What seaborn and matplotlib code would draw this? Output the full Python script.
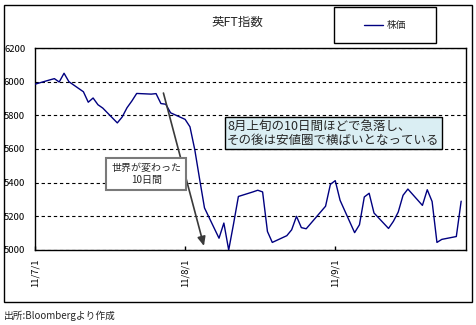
import matplotlib
matplotlib.use("Agg")
import matplotlib.pyplot as plt
import matplotlib.dates as mdates
from matplotlib.patches import Rectangle
from matplotlib.ticker import FuncFormatter
import pandas as pd
import seaborn as sns

# FTSE 100 daily closes, Jul-Sep 2011
dates = [
    "2011-07-01", "2011-07-04", "2011-07-05", "2011-07-06", "2011-07-07", "2011-07-08",
    "2011-07-11", "2011-07-12", "2011-07-13", "2011-07-14", "2011-07-15",
    "2011-07-18", "2011-07-19", "2011-07-20", "2011-07-21", "2011-07-22",
    "2011-07-25", "2011-07-26", "2011-07-27", "2011-07-28", "2011-07-29",
    "2011-08-01", "2011-08-02", "2011-08-03", "2011-08-04", "2011-08-05",
    "2011-08-08", "2011-08-09", "2011-08-10", "2011-08-11", "2011-08-12",
    "2011-08-15", "2011-08-16", "2011-08-17", "2011-08-18", "2011-08-19",
    "2011-08-22", "2011-08-23", "2011-08-24", "2011-08-25", "2011-08-26",
    "2011-08-30", "2011-08-31",
    "2011-09-01", "2011-09-02",
    "2011-09-05", "2011-09-06", "2011-09-07", "2011-09-08", "2011-09-09",
    "2011-09-12", "2011-09-13", "2011-09-14", "2011-09-15", "2011-09-16",
    "2011-09-19", "2011-09-20", "2011-09-21", "2011-09-22", "2011-09-23",
    "2011-09-26", "2011-09-27",
]
prices = [
    5985, 6010, 6018, 5998, 6050, 6000,
    5940, 5878, 5903, 5863, 5843,
    5755, 5790, 5845, 5885, 5930,
    5926, 5929, 5870, 5866, 5815,
    5776, 5732, 5595, 5420, 5250,
    5070, 5160, 5000, 5155, 5318,
    5345, 5355, 5345, 5110, 5045,
    5085, 5120, 5200, 5133, 5126,
    5260, 5390,
    5412, 5295,
    5103, 5150, 5315, 5337, 5220,
    5128, 5170, 5225, 5325, 5362,
    5265, 5358, 5288, 5045, 5063,
    5080, 5290,
]
yticks = [5000, 5200, 5400, 5600, 5800, 6000, 6200]
xtick_dates = ["2011-07-01", "2011-08-01", "2011-09-01"]
x_end = "2011-09-28"

title = "英FT指数"
series_name = "株価"
note_left = "世界が変わった\n10日間"
note_right = "8月上旬の10日間ほどで急落し、\nその後は安値圏で横ばいとなっている"
source = "出所:Bloombergより作成"

df = pd.DataFrame({"date": pd.to_datetime(dates), "price": prices})

sns.set_theme(style="white")
plt.rcParams["font.family"] = ["Noto Sans CJK JP", "DejaVu Sans"]

fig = plt.figure(figsize=(4.76, 3.25), dpi=100)
fig.patch.set_facecolor("white")

# outer chart frame
fig.add_artist(Rectangle((0.0084, 0.0708), 0.9842, 0.9138, transform=fig.transFigure,
                         fill=False, edgecolor="black", lw=1.0))

ax = fig.add_axes([0.0735, 0.2308, 0.9055, 0.6215])
ax.set_facecolor("white")
sns.lineplot(data=df, x="date", y="price", ax=ax, color="#000080", lw=1.0,
             legend=False, zorder=3)

ax.set_ylim(yticks[0], yticks[-1])
ax.set_xlim(pd.Timestamp(dates[0]), pd.Timestamp(x_end))
ax.set_yticks(yticks)
ax.set_xticks(pd.to_datetime(xtick_dates))
ax.xaxis.set_major_formatter(FuncFormatter(
    lambda v, p: (lambda d: f"{d.year % 100}/{d.month}/{d.day}")(mdates.num2date(v))))
ax.set_xlabel("")
ax.set_ylabel("")

ax.yaxis.grid(True, linestyle=(0, (3, 2.5)), color="black", lw=0.8)
ax.xaxis.grid(False)
for s in ax.spines.values():
    s.set_visible(True)
    s.set_color("black")
    s.set_linewidth(1.0)

ax.tick_params(axis="y", length=0, pad=7, labelsize=6.8, colors="black")
ax.tick_params(axis="x", direction="in", length=3, width=1, pad=6,
               labelsize=6.8, labelrotation=90, colors="black", bottom=True)

fig.text(0.498, 0.930, title, ha="center", va="center", fontsize=9)

# legend box
fig.add_artist(Rectangle((0.7017, 0.8677), 0.2143, 0.1108, transform=fig.transFigure,
                         fill=False, edgecolor="black", lw=1.0))
ax.legend(handles=ax.lines[:1], labels=[series_name], loc="center",
          bbox_to_anchor=(0.8088, 0.923), bbox_transform=fig.transFigure,
          frameon=False, fontsize=7, handlelength=1.9, handletextpad=0.4)

# arrow toward the August trough
ax.annotate("", xy=(0.392, 0.02), xytext=(0.298, 0.777),
            xycoords="axes fraction", textcoords="axes fraction",
            arrowprops=dict(arrowstyle="-|>,head_length=0.45,head_width=0.2",
                            color="#3a3a3a", lw=1.2, shrinkA=0, shrinkB=0),
            zorder=4)

ax.text(0.2587, 0.376, note_left, transform=ax.transAxes, ha="center", va="center",
        fontsize=7.2, linespacing=1.2, zorder=6,
        bbox=dict(boxstyle="square,pad=0.5", facecolor="white",
                  edgecolor="#7a7a7a", lw=1.5))

ax.text(0.4455, 0.579, note_right, transform=ax.transAxes, ha="left", va="center",
        fontsize=9, linespacing=1.1, zorder=6,
        bbox=dict(boxstyle="square,pad=0.2", facecolor="#DAEEF3",
                  edgecolor="black", lw=1.0))

fig.text(0.0084, 1 - 316 / 325, source, ha="left", va="center", fontsize=7)

fig.savefig("out.png", dpi=100, facecolor="white")
